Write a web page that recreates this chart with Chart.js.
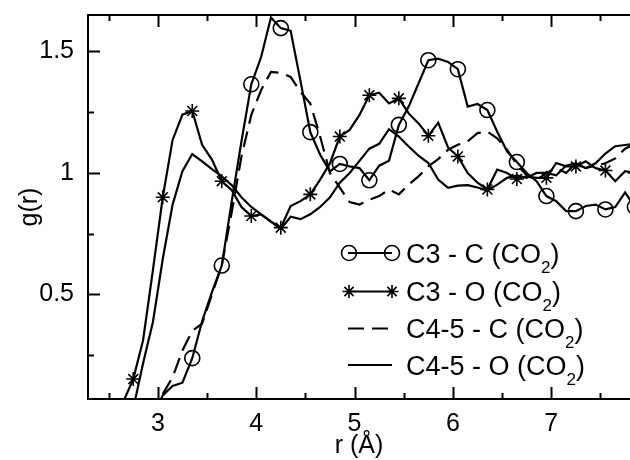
<!DOCTYPE html>
<html><head><meta charset="utf-8">
<script src="https://cdn.jsdelivr.net/npm/chart.js@4/dist/chart.umd.min.js"></script>
<style>html,body{margin:0;padding:0;background:#fff;}#wrap{width:630px;height:460px;}</style>
</head><body><div id="wrap"><canvas id="c" width="630" height="460"></canvas></div>
<script>
// r grid (Å)
const rValues = [2.65,2.75,2.85,2.95,3.05,3.15,3.25,3.35,3.45,3.55,3.65,3.75,3.85,3.95,4.05,4.15,4.25,4.35,4.45,4.55,4.65,4.75,4.85,4.95,5.05,5.15,5.25,5.35,5.45,5.55,5.65,5.75,5.85,5.95,6.05,6.15,6.25,6.35,6.45,6.55,6.65,6.75,6.85,6.95,7.05,7.15,7.25,7.35,7.45,7.55,7.65,7.75,7.85];
// g(r) series
const c3C = [null,null,null,0.00,0.085,0.124,0.137,0.238,0.39,0.51,0.619,0.88,1.13,1.365,1.477,1.64,1.596,1.585,1.379,1.168,1.075,1.007,1.037,1.027,1.02,0.97,1.03,1.05,1.198,1.273,1.368,1.464,1.47,1.457,1.427,1.273,1.284,1.259,1.17,1.089,1.045,1.0,0.966,0.905,0.884,0.843,0.843,0.864,0.87,0.85,0.86,0.92,0.86];
const c3O = [0.06,0.152,0.312,0.60,0.90,1.136,1.24,1.255,1.116,1.055,0.966,0.93,0.86,0.823,0.83,0.80,0.775,0.864,0.884,0.912,0.973,1.04,1.15,1.177,1.239,1.32,1.33,1.286,1.307,1.245,1.204,1.153,1.207,1.105,1.068,1.0,0.96,0.932,1.014,1.0,0.975,0.986,0.98,0.98,1.041,1.027,1.027,1.048,1.02,1.01,0.966,1.007,1.0];
const c45C = [null,null,null,0.00,0.09,0.16,0.27,0.35,0.38,0.50,0.62,0.836,1.068,1.239,1.341,1.416,1.412,1.395,1.334,1.286,1.15,1.0,0.94,0.88,0.87,0.89,0.905,0.932,0.912,0.952,0.986,1.027,1.057,1.096,1.116,1.13,1.164,1.17,1.143,1.096,1.034,0.99,0.97,1.0,1.02,1.0,1.04,1.02,1.03,1.04,1.06,1.10,1.12];
const c45O = [null,0.03,0.217,0.387,0.646,0.87,1.007,1.078,1.048,1.016,0.986,0.95,0.90,0.86,0.83,0.80,0.77,0.82,0.81,0.83,0.86,0.90,0.96,1.0,1.05,1.10,1.12,1.18,1.15,1.109,1.071,1.041,0.973,0.939,0.948,0.95,0.94,0.928,0.952,0.98,0.99,0.98,1.0,1.0,0.99,1.03,1.04,1.02,1.04,1.08,1.11,1.115,1.12];
const seriesLabels = ['C3 - C', 'C3 - O', 'C4-5 - C', 'C4-5 - O'];
const xTickLabels = ['3','4','5','6','7'];
const yTickLabels = ['0.5','1','1.5'];

const FONT = '"Liberation Sans", Arial, Helvetica, sans-serif';
const toPts = arr => rValues.map((r, i) => ({x: r, y: arr[i]}));
const markerRadius = rad => ctx => {
  const p = ctx.raw;
  if (!p || p.y === null || p.y < 0.1) return 0;
  const k = Math.round((p.x - 2.75) * 10);
  return (k % 3 === 0) ? rad : 0;
};
const noPad = s => { s.paddingTop = 0; s.paddingBottom = 0; s.paddingLeft = 0; s.paddingRight = 0; };

const frameTicks = {
  id: 'frameTicks',
  afterDatasetsDraw(chart) {
    const {ctx, chartArea: a, scales: {x, y}} = chart;
    ctx.save();
    ctx.strokeStyle = '#000';
    ctx.lineWidth = 2;
    ctx.beginPath();
    ctx.moveTo(a.right + 2, a.top); ctx.lineTo(a.left, a.top);
    ctx.lineTo(a.left, a.bottom); ctx.lineTo(a.right + 2, a.bottom);
    ctx.stroke();
    ctx.beginPath();
    x.ticks.forEach(t => {
      const p = Math.round(x.getPixelForValue(t.value)) + 0.5;
      const major = Math.abs(t.value - Math.round(t.value)) < 1e-6;
      const L = major ? 12 : 6;
      ctx.moveTo(p, a.bottom); ctx.lineTo(p, a.bottom - L);
      ctx.moveTo(p, a.top); ctx.lineTo(p, a.top + L);
    });
    y.ticks.forEach(t => {
      const p = Math.round(y.getPixelForValue(t.value)) + 0.5;
      const major = Math.abs(t.value * 2 - Math.round(t.value * 2)) < 1e-6;
      const L = major ? 12 : 6;
      ctx.moveTo(a.left, p); ctx.lineTo(a.left + L, p);
    });
    ctx.stroke();
    ctx.restore();
  }
};

function drawCircle(ctx, x, y, r) { ctx.beginPath(); ctx.arc(x, y, r, 0, Math.PI * 2); ctx.stroke(); }
function drawStar(ctx, x, y, r) {
  ctx.beginPath();
  for (let k = 0; k < 4; k++) {
    const ang = k * Math.PI / 4;
    ctx.moveTo(x - r * Math.cos(ang), y - r * Math.sin(ang));
    ctx.lineTo(x + r * Math.cos(ang), y + r * Math.sin(ang));
  }
  ctx.stroke();
}

const legendPlugin = {
  id: 'customLegend',
  afterDraw(chart) {
    const ctx = chart.ctx;
    const rows = [253, 291.5, 328.5, 365];
    const x0 = 348, x1 = 392, tx = 406;
    ctx.save();
    ctx.strokeStyle = '#000'; ctx.fillStyle = '#000';
    rows.forEach((yy, i) => {
      ctx.lineWidth = 2;
      ctx.setLineDash(i === 2 ? [16, 8] : []);
      ctx.beginPath(); ctx.moveTo(x0, yy); ctx.lineTo(x1, yy); ctx.stroke();
      ctx.setLineDash([]);
      ctx.lineWidth = 1.6;
      if (i === 0) { drawCircle(ctx, x0 + 1, yy, 7.5); drawCircle(ctx, x1, yy, 7.5); }
      if (i === 1) { drawStar(ctx, x0 + 1, yy, 6.5); drawStar(ctx, x1, yy, 6.5); }
      const base = yy + 9.7;
      ctx.textBaseline = 'alphabetic'; ctx.textAlign = 'left';
      ctx.font = '27px ' + FONT;
      const main = seriesLabels[i] + ' (CO';
      ctx.fillText(main, tx, base);
      let w = ctx.measureText(main).width;
      ctx.font = '17px ' + FONT;
      ctx.fillText('2', tx + w, base + 10);
      w += ctx.measureText('2').width;
      ctx.font = '27px ' + FONT;
      ctx.fillText(')', tx + w, base);
    });
    ctx.restore();
  }
};

const common = {borderColor: '#000', backgroundColor: 'rgba(0,0,0,0)', borderWidth: 2.2, tension: 0,
  pointBorderColor: '#000', pointBackgroundColor: 'rgba(0,0,0,0)', pointBorderWidth: 1.6, clip: 0};

new Chart(document.getElementById('c'), {
  type: 'line',
  data: {
    datasets: [
      Object.assign({label: 'C3 - C (CO₂)', data: toPts(c3C), pointStyle: 'circle', pointRadius: markerRadius(7.5)}, common),
      Object.assign({label: 'C3 - O (CO₂)', data: toPts(c3O), pointStyle: 'star', pointRadius: markerRadius(7)}, common),
      Object.assign({label: 'C4-5 - C (CO₂)', data: toPts(c45C), pointRadius: 0, borderDash: [16, 8]}, common),
      Object.assign({label: 'C4-5 - O (CO₂)', data: toPts(c45O), pointRadius: 0}, common)
    ]
  },
  options: {
    responsive: false, animation: false, devicePixelRatio: 1, events: [],
    layout: {autoPadding: false, padding: {top: 15, left: 0, right: 0, bottom: 0}},
    plugins: {legend: {display: false}, tooltip: {enabled: false}},
    scales: {
      x: {
        type: 'linear', min: 2.29, max: 7.8,
        grid: {display: false}, border: {display: false},
        ticks: {stepSize: 0.5, includeBounds: false, autoSkip: false, maxRotation: 0, color: '#000', padding: 2,
          font: {family: FONT, size: 25},
          callback: v => { const k = xTickLabels.indexOf(String(Math.round(v * 1000) / 1000)); return k >= 0 ? xTickLabels[k] : ''; }},
        title: {display: true, text: 'r (Å)', color: '#000', font: {family: FONT, size: 25, lineHeight: 1.12}, padding: 0},
        afterFit: s => { s.height = 61; noPad(s); }
      },
      y: {
        type: 'linear', min: 0.07, max: 1.65,
        grid: {display: false}, border: {display: false},
        ticks: {stepSize: 0.25, includeBounds: false, autoSkip: false, color: '#000', padding: 6,
          font: {family: FONT, size: 25},
          callback: v => { const k = yTickLabels.indexOf(String(Math.round(v * 1000) / 1000)); return k >= 0 ? yTickLabels[k] : ''; }},
        title: {display: true, text: 'g(r)', color: '#000', font: {family: FONT, size: 25, lineHeight: 1.2}, padding: {top: 15, bottom: 0}},
        afterFit: s => { s.width = 88; noPad(s); }
      }
    }
  },
  plugins: [frameTicks, legendPlugin]
});
</script></body></html>
